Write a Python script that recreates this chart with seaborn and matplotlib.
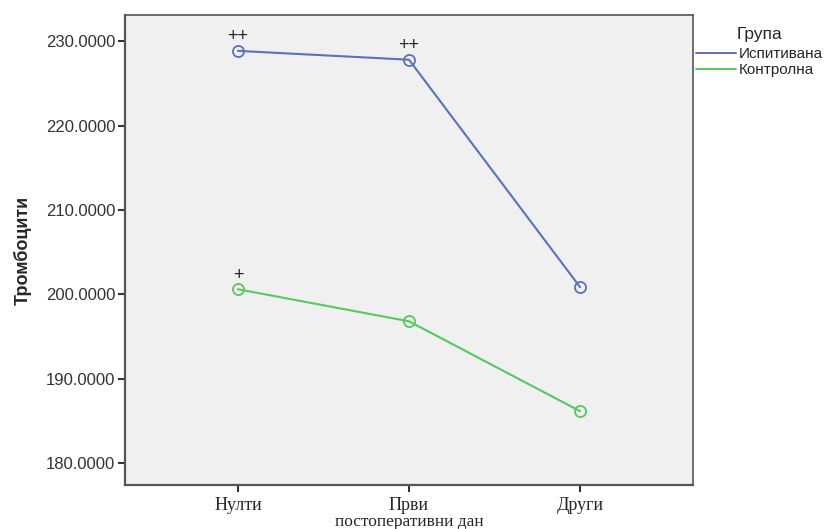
import matplotlib
matplotlib.use("Agg")
import matplotlib.pyplot as plt
import seaborn as sns
import pandas as pd
from matplotlib.lines import Line2D

days = ["Нулти", "Први", "Други"]
groups = ["Испитивана", "Контролна"]
ispitivana = [228.85, 227.8, 200.85]
kontrolna = [200.6, 196.8, 186.15]
marks_isp = ["++", "++", ""]
marks_kon = ["+", "", ""]
yticks = [180, 190, 200, 210, 220, 230]
colors = ["#5b71bb", "#55c95f"]

df = pd.DataFrame({
    "day": list(range(len(days))) * 2,
    "value": ispitivana + kontrolna,
    "group": [groups[0]] * 3 + [groups[1]] * 3,
})

sns.set_theme(style="ticks")
plt.rcParams["font.family"] = ["Liberation Sans", "DejaVu Sans"]

fig = plt.figure(figsize=(8.27, 5.29), dpi=100)
ax = fig.add_axes([125 / 827, 1 - 485 / 529, (693 - 125) / 827, (485 - 15) / 529])
ax.set_facecolor("#f0f0f0")

sns.lineplot(data=df, x="day", y="value", hue="group", palette=colors,
             marker="o", markersize=8, markerfacecolor="none", markeredgewidth=1.3,
             linewidth=1.5, ax=ax, legend=False)
for ln in ax.lines:
    ln.set_markeredgecolor(ln.get_color())
    ln.set_markerfacecolor("none")

for i, m in enumerate(marks_isp):
    if m:
        ax.annotate(m, (i, ispitivana[i]), xytext=(0, 4), textcoords="offset points",
                    ha="center", va="bottom", fontsize=13, color="#222222")
for i, m in enumerate(marks_kon):
    if m:
        ax.annotate(m, (i, kontrolna[i]), xytext=(0, 4), textcoords="offset points",
                    ha="center", va="bottom", fontsize=13, color="#222222")

ax.set_xlim(-0.66, 2.66)
ax.set_ylim(177.4, 233.1)
ax.set_xticks(range(len(days)))
ax.set_xticklabels(days, fontfamily="Liberation Serif", fontsize=13)
ax.set_yticks(yticks)
ax.set_yticklabels([f"{v:.4f}" for v in yticks], fontsize=12, color="#333333")
ax.tick_params(axis="both", length=5, width=1.5, color="#333333", pad=2)
ax.tick_params(axis="x", pad=4)
for s in ax.spines.values():
    s.set_visible(True)
    s.set_color("#555555")
    s.set_linewidth(1.2)
ax.spines["left"].set_linewidth(1.6)
ax.spines["bottom"].set_linewidth(1.6)

ax.set_xlabel("постоперативни дан", fontfamily="Liberation Serif", fontsize=12.5, labelpad=0)
ax.set_ylabel("Тромбоцити", fontsize=13, fontweight="bold", labelpad=10)

handles = [Line2D([0], [0], color=c, lw=1.4) for c in colors]
leg = fig.legend(handles, groups, title="Група", loc="upper left",
                 bbox_to_anchor=(696 / 827, 1 - 27 / 529), frameon=False,
                 fontsize=11, title_fontsize=12.5, handlelength=2.6,
                 handletextpad=0.2, labelspacing=0.15, borderaxespad=0,
                 borderpad=0.0)
leg._legend_box.align = "center"
leg._legend_box.sep = 3.5

fig.savefig("out.png", dpi=100)
